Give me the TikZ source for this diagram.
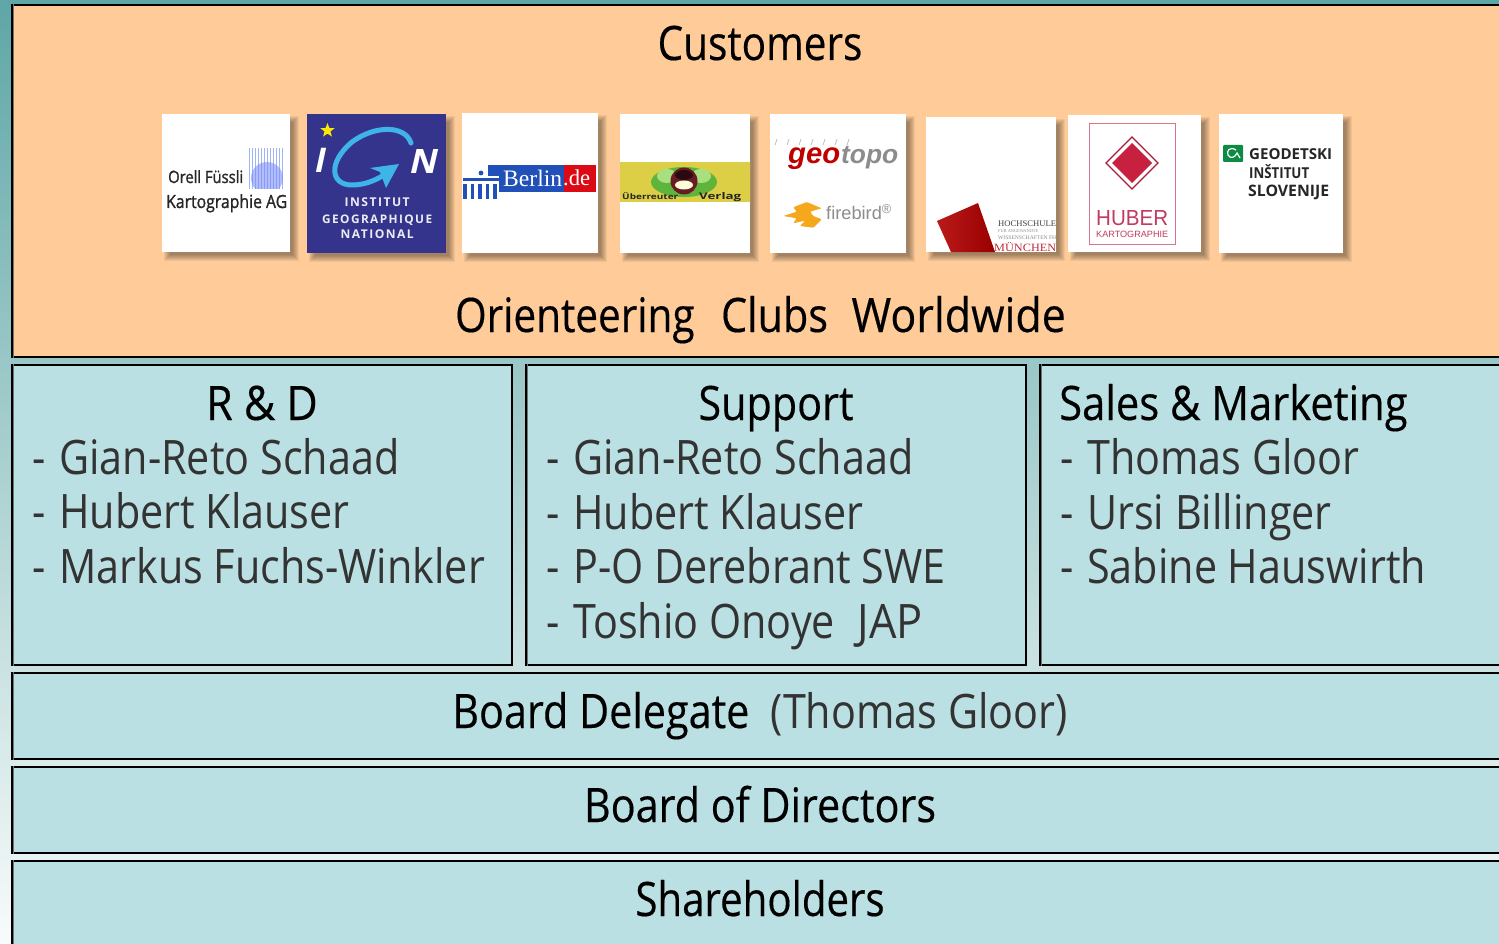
\documentclass[tikz,border=0pt]{standalone}
\usepackage{fontspec}
\usepackage{graphicx}
\setmainfont{Open Sans}
\newfontfamily\headfont[FakeStretch=0.87,FakeBold=0.35]{Open Sans}
\newfontfamily\namefont[FakeStretch=0.87]{Open Sans}
\newfontfamily\logobold[FakeStretch=0.87,FakeBold=1.2]{Open Sans}
\newfontfamily\logoserif{Liberation Serif}
\newfontfamily\logosans{Liberation Sans}
\usetikzlibrary{shapes.geometric}
\definecolor{bgtop}{HTML}{5FA6A6}
\definecolor{bgmid}{HTML}{BDD6D6}
\definecolor{bgbot}{HTML}{F8FBFB}
\definecolor{peach}{HTML}{FFCC99}
\definecolor{pale}{HTML}{BBE0E3}
\definecolor{igncol}{HTML}{34348C}
\definecolor{igncyan}{HTML}{3FB4E8}
\definecolor{berlinblue}{HTML}{2150B8}
\definecolor{berlinred}{HTML}{DC0A14}
\definecolor{hubercol}{HTML}{C23A60}
\definecolor{huberred}{HTML}{C8203F}
\definecolor{munred}{HTML}{BE2D3C}
\definecolor{orellblue}{HTML}{9DB6F7}
\definecolor{bandedge}{HTML}{DCCE45}
\definecolor{bandmid}{HTML}{B09A30}
\definecolor{eyegreen}{HTML}{5FB53C}
\definecolor{eyelight}{HTML}{A8E080}
\definecolor{eyebrown}{HTML}{6A1C24}
\definecolor{eyedark}{HTML}{2A0A10}
\definecolor{geogreen}{HTML}{0F8A45}
\definecolor{flame}{HTML}{F5A81C}
\tikzset{
 x=1pt,y=-1pt,
 panel/.style={draw=black,line width=2pt,inner sep=0pt,anchor=north west},
 peachbox/.style={panel,fill=peach},
 palebox/.style={panel,fill=pale},
 edgeline/.style={draw=black!55,line width=1pt},
 head/.style={font=\headfont\fontsize{47.5}{50}\selectfont,inner sep=0pt,anchor=base,text=black},
 entry/.style={font=\namefont\fontsize{47.5}{50}\selectfont\color{black!80},inner sep=0pt,anchor=base west},
 logobox/.style={inner sep=0pt,anchor=north west},
 lt/.style={inner sep=0pt,anchor=base west},
}
% name, x, y, w, h, fill
\newcommand{\logopanel}[6]{%
 \foreach \s in {4,3,2,1,0,-1,-2}{%
  \fill[black,opacity=.06] ({#2+6-\s},{#3+6-\s}) rectangle ({#2+#4+5+\s},{#3+#5+5+\s});
 }%
 \node[logobox,fill=#6,minimum width=#4 pt,minimum height=#5 pt] (#1) at (#2,#3) {};
}
\begin{document}
\begin{tikzpicture}
\useasboundingbox (0,0) rectangle (1499,944);
\shade[top color=bgtop,middle color=bgmid,bottom color=bgbot] (0,0) rectangle (1499,944);
% panels
\node[peachbox,minimum width=1510pt,minimum height=351.5pt] (cust) at (11,4) {};
\node[palebox,minimum width=500pt,minimum height=300pt] (rd) at (11,364) {};
\node[palebox,minimum width=500pt,minimum height=300pt] (sup) at (525,364) {};
\node[palebox,minimum width=480pt,minimum height=300pt] (sales) at (1039,364) {};
\node[palebox,minimum width=1510pt,minimum height=85.5pt] (del) at (11,672) {};
\node[palebox,minimum width=1510pt,minimum height=85.5pt] (dir) at (11,766) {};
\node[palebox,minimum width=1510pt,minimum height=100pt] (sh) at (11,860) {};
\foreach \n in {cust,rd,sup,sales,del,dir,sh}{
 \draw[edgeline] ([xshift=2.4pt]\n.north west) -- ([xshift=2.4pt]\n.south west);
}
% heads
\node[head] (t1) at (760,60) {\scalebox{0.98}[1]{Customers}};
\node[head] (t2) at (760.5,332) {\scalebox{0.98}[1]{Orienteering}\ \ \kern5pt Clubs\ \ \kern2pt \scalebox{1.04}[1]{Worldwide}};
\node[head] (h1) at (262,420) {\scalebox{1.04}[1]{R \& D}};
\node[head] (h2) at (776,420) {Support};
\node[head,anchor=base west] (h3) at (1059,420) {\scalebox{1.01}[1]{Sales \& Marketing}};
\node[head] (t3) at (760,728) {Board Delegate\ \ {\namefont\color{black!80}(Thomas Gloor)}};
\node[head] (t4) at (760,822) {Board of Directors};
\node[head] (t5) at (760,916) {\scalebox{0.973}[1]{Shareholders}};
% lists
\node[entry] (a1) at (32,474) {- \kern3pt Gian-Reto Schaad};
\node[entry] (a2) at (32,528) {- \kern3pt Hubert Klauser};
\node[entry] (a3) at (32,583) {- \kern3pt Markus Fuchs-Winkler};
\node[entry] (b1) at (546,474) {- \kern3pt Gian-Reto Schaad};
\node[entry] (b2) at (546,529) {- \kern3pt Hubert Klauser};
\node[entry] (b3) at (546,583) {- \kern3pt P-O Derebrant SWE};
\node[entry] (b4) at (546,638) {- \kern3pt Toshio Onoye\ \ \kern1pt \scalebox{1.05}[1]{JAP}};
\node[entry] (c1) at (1060,474) {- \kern3pt Thomas Gloor};
\node[entry] (c2) at (1060,529) {- \kern3pt Ursi Billinger};
\node[entry] (c3) at (1060,583) {- \kern3pt Sabine Hauswirth};
% logo 1: Orell Fussli
\logopanel{l1}{162}{114}{128}{138}{white}
\foreach \i in {0,...,11}{\draw[orellblue,line width=1.6pt] ({249.5+\i*3},148) -- ({249.5+\i*3},189);}
\fill[orellblue!75!blue,opacity=.55] (267,178) circle (16);
\fill[white] (245,189) rectangle (288,196);
\node[lt] (o1) at (168,183) {\resizebox{75pt}{!}{\logobold\color{black!85}Orell Füssli}};
\node[lt] (o2) at (166,208) {\resizebox{121pt}{!}{\logobold\color{black!85}Kartographie AG}};
% logo 2: IGN
\logopanel{l2}{307}{114}{139}{139}{igncol}
\node[star,star points=5,star point ratio=2.4,fill=yellow!90!orange,inner sep=0pt,minimum size=15pt] (ignstar) at (327.5,130.5) {};
\node[lt,text=white] (ign1) at (315,173) {\fontsize{34}{34}\selectfont\bfseries\itshape I};
\node[lt,text=white] (ign2) at (410,174) {\resizebox{28pt}{24pt}{\bfseries\itshape N}};
\draw[igncyan,line width=5pt,line cap=round] (411,143) .. controls (405,125) and (375,125) .. (352,142) .. controls (328,162) and (330,185) .. (352,185) .. controls (368,185) and (380,178) .. (392,170);
\fill[igncyan] (399,164) -- (370,168) -- (380,172) -- (386,188) -- cycle;
\node[lt] (ign3) at (344.5,207) {\resizebox{65pt}{!}{\bfseries\color{white!90!igncol}\addfontfeature{LetterSpace=12}INSTITUT}};
\node[lt] (ign4) at (322,224) {\resizebox{110pt}{!}{\bfseries\color{white!90!igncol}\addfontfeature{LetterSpace=12}GEOGRAPHIQUE}};
\node[lt] (ign5) at (340.5,238.5) {\resizebox{73pt}{!}{\bfseries\color{white!90!igncol}\addfontfeature{LetterSpace=12}NATIONAL}};
% logo 3: Berlin.de
\logopanel{l3}{462}{113}{136}{140}{white}
\fill[berlinblue] (488,165) rectangle (564,192);
\fill[berlinred] (564,165) rectangle (596,192);
\fill[white] (486,176) rectangle (499,200);
\fill[berlinblue] (463,178) rectangle (499,181);
\fill[berlinblue] (481,173) circle (2.4);
\foreach \i in {0,1,2,3,4}{\fill[berlinblue] ({463+\i*7.6},184) rectangle ({466.5+\i*7.6},199);}
\node[lt] (b3t) at (503,186) {\resizebox{59pt}{!}{\logoserif\color{white}Berlin}};
\node[lt] (b3u) at (563,186) {\resizebox{27pt}{!}{\logoserif\color{white}.de}};
% logo 4
\logopanel{l4}{620}{114}{130}{139}{white}
\shade[left color=bandedge,middle color=bandmid,right color=bandedge] (620,163) rectangle (750,202);
\fill[eyegreen] (684,182) ellipse (33 and 15);
\fill[eyelight] (667,176) ellipse (10 and 7);
\fill[eyelight] (701,176) ellipse (10 and 7);
\fill[eyebrown] (684,181) circle (13.5);
\fill[eyedark] (684,175) ellipse (9 and 5);
\fill[yellow!15!white] (684,185) ellipse (9 and 4.5);
\node[lt] (v1) at (622,200) {\resizebox{56pt}{7pt}{\bfseries\color{black!85}Überreuter}};
\node[lt] (v2) at (699,200) {\resizebox{42pt}{7pt}{\bfseries\color{black!85}Verlag}};
% logo 5: geotopo, firebird
\logopanel{l5}{770}{114}{136}{139}{white}
\foreach \i in {0,...,6}{\draw[black!25,line width=.8pt] ({775+\i*12},145) -- ({777+\i*12},139);}
\node[lt] (g1) at (788,164) {\resizebox{52pt}{!}{\logosans\bfseries\itshape\color{red!75!black}geo}};
\node[lt] (g2) at (841,164) {\resizebox{57pt}{!}{\logosans\bfseries\itshape\color{black!45}topo}};
\fill[flame,rounded corners=1pt] (783.3,216) -- (796.7,211.7) -- (793.3,207.3) -- (806.7,202) -- (821.7,208.3) -- (810,211.7) -- (813.3,216) -- (821.7,219.3) -- (813.3,227.7) -- (800,226) -- (805,220.7) -- (793.3,223.3) -- (796.7,218.3) -- cycle;
\node[lt] (g3) at (826,220) {\resizebox{66pt}{!}{\logosans\color{black!45}firebird\textsuperscript{®}}};
% logo 6: Hochschule Muenchen
\logopanel{l6}{926}{117}{130}{135}{white}
\shade[left color=red!70!black!90,right color=red!60!black] (937,221) -- (978,203) -- (995,252) -- (951,252) -- cycle;
\node[lt] (h61) at (998,226) {\resizebox{58pt}{!}{\logoserif\color{black!75}HOCHSCHULE}};
\node[lt] (h62) at (998,233) {\resizebox{40pt}{!}{\logoserif\color{black!45}FÜR ANGEWANDTE}};
\node[lt] (h63) at (998,239.5) {\resizebox{58pt}{!}{\logoserif\color{black!45}WISSENSCHAFTEN FH}};
\node[lt] (h64) at (994,252) {\resizebox{62pt}{9pt}{\logoserif\color{munred}MÜNCHEN}};
% logo 7: Huber
\logopanel{l7}{1068}{115}{133}{137}{white}
\draw[hubercol!70,line width=.8pt] (1089,123) rectangle (1175,244);
\draw[huberred!85!black,line width=1.3pt] (1132,137) -- (1158,163) -- (1132,189) -- (1106,163) -- cycle;
\fill[huberred] (1132,143) -- (1152,163) -- (1132,183) -- (1112,163) -- cycle;
\node[lt] (hu1) at (1096,226) {\resizebox{72pt}{15pt}{\logosans\color{hubercol}HUBER}};
\node[lt] (hu2) at (1096,237) {\resizebox{72pt}{!}{\logosans\color{hubercol}KARTOGRAPHIE}};
% logo 8: Geodetski
\logopanel{l8}{1219}{114}{124}{139}{white}
\fill[geogreen,rounded corners=1pt] (1223,145) rectangle (1243,162);
\draw[white,line width=1.2pt] (1236,150) .. controls (1230,146) and (1226,151) .. (1228,155) .. controls (1230,159) and (1235,158) .. (1237,153) -- (1240,158);
\node[lt] (ge1) at (1249,159.5) {\resizebox{83pt}{!}{\bfseries\color{black!85}GEODETSKI}};
\node[lt] (ge2) at (1249,179) {\resizebox{60pt}{14pt}{\bfseries\color{black!85}INŠTITUT}};
\node[lt] (ge3) at (1248,197) {\resizebox{81pt}{!}{\bfseries\color{black!85}SLOVENIJE}};
\end{tikzpicture}
\end{document}
